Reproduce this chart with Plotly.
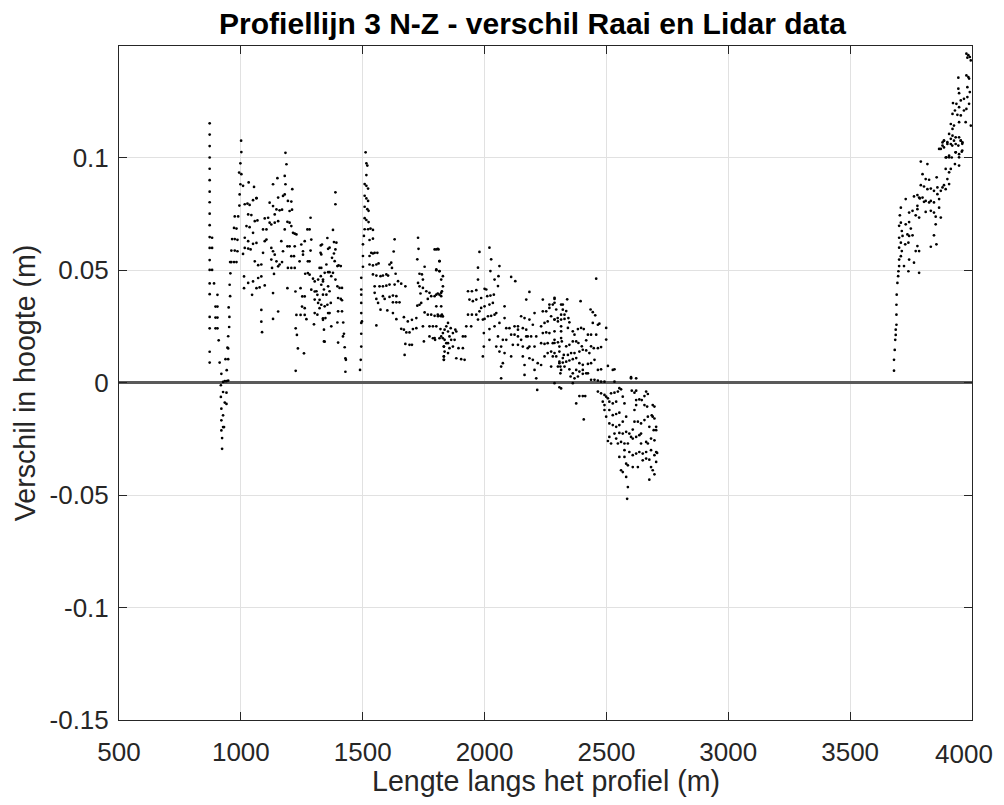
import plotly.graph_objects as go

# ---------------- data ----------------
# (distance along profile [m], height difference [m])
seg_900_1350 = [
    (872,0.1154),(872,0.1104),(872,0.1053),(872,0.1002),(872,0.0952),(872,0.0901),(872,0.0850),(872,0.0803),
    (872,0.0752),(872,0.0701),(872,0.0648),(872,0.0600),(872,0.0546),(872,0.0502),(872,0.0442),(872,0.0394),
    (872,0.0293),(872,0.0242),(872,0.0138),(872,0.0090),
    (882,0.0645),(882,0.0600),(882,0.0502),(890,0.0442),(904,0.0391),(904,0.0339),(904,0.0290),(904,0.0242),
    (896,0.0339),(896,0.0290),(896,0.0242),(909,0.0189),
    (913,0.0090),(920,0.0040),(918,-0.0011),(927,0.0004),(934,0.0007),(941,0.0007),(948,0.0010),(927,-0.0041),
    (941,-0.0044),(918,-0.0063),(934,-0.0088),(941,-0.0094),(920,-0.0115),(927,-0.0145),(920,-0.0167),
    (927,-0.0197),(931,-0.0197),(920,-0.0212),(923,-0.0246),(923,-0.0294),(942,0.0056),(948,0.0105),
    (945,0.0156),(948,0.0207),(952,0.0248),(953,0.0293),(950,0.0335),(956,0.0385),(954,0.0436),(957,0.0487),
    (956,0.0537),(937,0.0105),(948,0.0153),
    (961,0.0537),(972,0.0537),(982,0.0537),(961,0.0588),(975,0.0588),(986,0.0585),(964,0.0639),(975,0.0639),
    (986,0.0636),(972,0.0689),(982,0.0686),(975,0.0740),(989,0.0740),(994,0.0788),(995,0.0838),(998,0.0883),
    (1002,0.0928),(998,0.0976),(1002,0.1026),(1001,0.1077),(1009,0.0876),(993,0.0935),(1013,0.0473),
    (1013,0.0421),(1030,0.0444),
    (1016,0.0794),(1027,0.0797),(1036,0.0791),(1050,0.0812),(1064,0.0821),(1030,0.0749),(1043,0.0746),
    (1057,0.0719),(1068,0.0722),(1023,0.0697),(1036,0.0692),(1050,0.0667),(1016,0.0645),(1030,0.0630),
    (1050,0.0618),(1064,0.0622),(1016,0.0600),(1030,0.0597),(1040,0.0593),(1009,0.0573),(1057,0.0540),
    (1071,0.0523),(1084,0.0526),(1091,0.0578),(1098,0.0630),(1105,0.0637),(1091,0.0682),(1105,0.0682),
    (1098,0.0731),(1112,0.0734),(1118,0.0712),(1125,0.0704),(1139,0.0712),(1153,0.0719),(1050,0.0451),
    (1071,0.0466),(1084,0.0473),(1064,0.0421),(1077,0.0424),(1098,0.0433),(1046,0.0391),(1084,0.0324),
    (1084,0.0272),(1087,0.0225),(1032,0.0891),(1054,0.0871),(1064,0.0821),
    (1118,0.0801),(1132,0.0786),(1146,0.0771),(1159,0.0767),(1169,0.0770),(1180,0.0838),(1173,0.0831),
    (1183,0.0883),(1180,0.0920),(1187,0.0972),(1183,0.1023),(1132,0.0883),(1150,0.0910),(1153,0.0824),
    (1139,0.0749),(1125,0.0600),(1132,0.0585),(1139,0.0570),(1146,0.0540),(1153,0.0518),(1159,0.0526),
    (1169,0.0537),(1125,0.0548),(1128,0.0511),(1136,0.0484),(1132,0.0399),(1153,0.0317),(1132,0.0284),
    (1166,0.0630),(1173,0.0585),(1180,0.0682),(1191,0.0716),(1200,0.0712),(1207,0.0697),(1214,0.0667),
    (1221,0.0663),(1228,0.0660),(1193,0.0809),(1207,0.0806),(1200,0.0764),(1210,0.0770),(1211,0.0861),
    (1191,0.0607),(1200,0.0607),(1207,0.0563),(1193,0.0511),(1207,0.0511),(1191,0.0421),(1218,0.0563),
    (1221,0.0511),
    (1221,0.0607),(1224,0.0406),(1228,0.0302),(1225,0.0242),(1230,0.0213),(1234,0.0153),(1225,0.0053),
    (1248,0.0615),(1255,0.0570),(1241,0.0540),(1245,0.0421),(1252,0.0384),(1262,0.0384),(1251,0.0339),
    (1245,0.0302),(1262,0.0332),(1255,0.0585),(1262,0.0630),(1275,0.0540),(1282,0.0540),(1286,0.0588),
    (1289,0.0637),(1282,0.0682),(1286,0.0734),(1273,0.0682),(1264,0.0485),(1275,0.0488),(1282,0.0481),
    (1296,0.0463),(1303,0.0451),(1289,0.0414),(1303,0.0406),(1314,0.0391),(1323,0.0369),(1330,0.0436),
    (1337,0.0451),(1333,0.0615),(1327,0.0578),(1330,0.0511),(1323,0.0332),(1337,0.0287),(1344,0.0183),
    (1300,0.0260),(1262,0.0302),(1269,0.0283),(1259,0.0131),
]

seg_1300_1830 = [
    (1328,0.0611),(1330,0.0571),(1323,0.0511),(1328,0.0474),(1317,0.0459),(1310,0.0407),(1303,0.0370),
    (1317,0.0355),(1314,0.0303),(1303,0.0310),(1337,0.0459),(1344,0.0489),(1358,0.0492),(1351,0.0526),
    (1341,0.0415),(1358,0.0429),(1364,0.0407),(1351,0.0392),(1337,0.0392),(1330,0.0347),(1344,0.0340),
    (1355,0.0347),(1369,0.0355),(1337,0.0280),(1347,0.0288),(1358,0.0310),(1364,0.0310),(1341,0.0236),
    (1341,0.0184),(1371,0.0251),(1355,0.0644),(1358,0.0596),(1364,0.0601),(1378,0.0680),(1382,0.0626),
    (1392,0.0623),(1388,0.0593),(1382,0.0575),(1374,0.0556),(1385,0.0541),(1396,0.0519),(1401,0.0522),
    (1410,0.0519),(1378,0.0489),(1371,0.0474),(1388,0.0459),(1396,0.0429),(1405,0.0422),(1415,0.0422),
    (1399,0.0377),(1410,0.0373),(1415,0.0367),(1399,0.0318),(1415,0.0318),(1396,0.0268),(1420,0.0268),
    (1423,0.0218),(1419,0.0206),(1399,0.0179),(1426,0.0158),(1429,0.0109),(1431,0.0102),(1429,0.0049),
    (1388,0.0847),(1388,0.0794),(1364,0.0492),
    (1512,0.1025),(1515,0.0976),(1519,0.0966),(1515,0.0924),(1508,0.0884),(1515,0.0876),(1522,0.0864),
    (1508,0.0832),(1515,0.0820),(1522,0.0809),(1508,0.0783),(1519,0.0772),(1524,0.0765),(1508,0.0732),
    (1515,0.0724),(1524,0.0715),(1508,0.0683),(1522,0.0683),(1532,0.0686),(1542,0.0680),(1505,0.0653),
    (1528,0.0635),(1542,0.0641),(1501,0.0616),(1535,0.0578),(1542,0.0575),(1549,0.0578),(1560,0.0578),
    (1528,0.0564),(1501,0.0564),(1528,0.0526),(1542,0.0522),(1556,0.0526),(1565,0.0531),(1501,0.0516),
    (1542,0.0482),(1556,0.0477),(1573,0.0474),(1583,0.0477),(1597,0.0482),(1604,0.0477),(1549,0.0429),
    (1569,0.0429),(1583,0.0429),(1597,0.0432),(1610,0.0437),(1631,0.0437),(1631,0.0638),(1627,0.0584),
    (1617,0.0534),(1610,0.0526),(1620,0.0511),(1635,0.0485),(1645,0.0452),(1658,0.0441),(1675,0.0429),
    (1549,0.0400),(1556,0.0373),(1563,0.0355),(1583,0.0385),(1590,0.0373),(1610,0.0382),(1624,0.0388),
    (1638,0.0385),(1651,0.0358),(1624,0.0358),(1638,0.0358),(1573,0.0325),(1601,0.0322),(1624,0.0310),
    (1638,0.0283),(1556,0.0255),(1669,0.0292),(1685,0.0273),(1702,0.0280),(1720,0.0288),(1658,0.0240),
    (1669,0.0236),(1679,0.0224),(1692,0.0224),(1706,0.0239),(1720,0.0243),(1675,0.0173),(1692,0.0169),
    (1702,0.0169),(1672,0.0124),(1494,0.0467),(1494,0.0415),(1494,0.0392),(1494,0.0355),(1494,0.0310),
    (1494,0.0266),(1494,0.0218),(1494,0.0161),(1492,0.0102),(1489,0.0057),(1497,0.0273),
    (1727,0.0645),(1729,0.0596),(1724,0.0549),(1733,0.0485),(1743,0.0482),(1747,0.0459),(1754,0.0516),
    (1727,0.0444),(1733,0.0429),(1737,0.0397),(1747,0.0422),(1761,0.0407),(1774,0.0400),(1781,0.0385),
    (1795,0.0385),(1808,0.0397),(1822,0.0400),(1767,0.0373),(1724,0.0343),(1733,0.0347),(1740,0.0355),
    (1754,0.0313),(1767,0.0303),(1781,0.0303),(1795,0.0298),(1808,0.0303),(1819,0.0298),(1829,0.0295),
    (1747,0.0251),(1774,0.0251),(1788,0.0251),(1774,0.0206),(1788,0.0198),(1797,0.0191),(1815,0.0198),
    (1829,0.0198),(1751,0.0184),(1795,0.0593),(1808,0.0596),(1802,0.0504),(1815,0.0496),(1815,0.0541),
    (1829,0.0474),(1829,0.0429),(1822,0.0385),(1833,0.0161),(1833,0.0117),(1833,0.0102),(1819,0.0239),
]

seg_1800_2320 = [
    (1802,0.0593),(1811,0.0593),(1815,0.0541),(1802,0.0501),(1815,0.0497),(1822,0.0459),(1825,0.0407),
    (1802,0.0392),(1815,0.0392),(1822,0.0340),(1802,0.0340),(1822,0.0296),(1809,0.0296),(1802,0.0251),
    (1825,0.0303),(1850,0.0266),(1843,0.0251),(1836,0.0236),(1829,0.0221),(1822,0.0206),(1850,0.0228),
    (1861,0.0243),(1836,0.0191),(1843,0.0176),(1833,0.0161),(1836,0.0139),(1833,0.0117),(1833,0.0102),
    (1856,0.0206),(1870,0.0221),(1884,0.0228),(1911,0.0206),(1921,0.0206),(1850,0.0176),(1863,0.0191),
    (1877,0.0191),(1856,0.0154),(1870,0.0161),(1893,0.0154),(1911,0.0154),(1850,0.0132),(1884,0.0109),
    (1904,0.0105),(1918,0.0102),(1880,0.0236),(1795,0.0199),
    (1932,0.0407),(1948,0.0407),(1966,0.0412),(1979,0.0582),(1973,0.0512),(1973,0.0459),(1938,0.0370),
    (1952,0.0363),(1966,0.0370),(1986,0.0377),(2000,0.0418),(2007,0.0415),(2011,0.0385),(2024,0.0388),
    (2038,0.0392),(2020,0.0601),(2027,0.0549),(2024,0.0497),(2041,0.0459),(2055,0.0430),(2061,0.0519),
    (2057,0.0474),(1932,0.0303),(1948,0.0303),(1966,0.0303),(1979,0.0318),(1986,0.0333),(2000,0.0340),
    (2020,0.0348),(2034,0.0355),(1925,0.0251),(1945,0.0251),(1973,0.0281),(1993,0.0281),(2000,0.0284),
    (2014,0.0296),(2027,0.0298),(2041,0.0303),(2048,0.0310),(1997,0.0221),(2020,0.0239),(2041,0.0251),
    (2061,0.0266),(2082,0.0288),(2082,0.0340),(2055,0.0206),(2075,0.0191),(2089,0.0191),(2068,0.0161),
    (2048,0.0161),(2061,0.0139),(2082,0.0132),(2068,0.0072),(2075,0.0087),(2068,0.0020),(1997,0.0161),
    (1993,0.0117),(2020,0.0191),(2109,0.0471),(2126,0.0452),(2089,0.0243),(2102,0.0243),(2123,0.0251),
    (2137,0.0251),(2109,0.0214),(2123,0.0214),(2137,0.0236),(2150,0.0296),(2164,0.0288),(2184,0.0281),
    (2198,0.0258),(2157,0.0243),(2171,0.0236),(2137,0.0206),(2150,0.0191),(2171,0.0206),(2191,0.0206),
    (2116,0.0169),(2137,0.0169),(2157,0.0161),(2177,0.0154),(2109,0.0117),(2157,0.0117),(2184,0.0161),
    (2205,0.0161),(2164,0.0079),(2164,0.0035),(2184,0.0109),(2198,0.0102),(2205,0.0057),(2212,0.0020),
    (2218,0.0087),(2232,0.0079),(2246,0.0117),(2259,0.0132),(2273,0.0139),(2232,0.0176),(2246,0.0173),
    (2259,0.0176),(2280,0.0176),(2239,0.0221),(2253,0.0224),(2266,0.0221),(2232,0.0251),(2246,0.0266),
    (2259,0.0273),(2273,0.0296),(2239,0.0318),(2253,0.0318),(2266,0.0333),(2280,0.0348),(2287,0.0373),
    (2239,0.0370),(2266,0.0348),(2171,0.0370),(2184,0.0404),(2205,0.0310),(2212,0.0206),(2177,0.0206),
    (2280,0.0117),(2273,0.0072),(2294,0.0117),(2307,0.0161),(2307,0.0087),(2311,0.0072),(2311,0.0042),
    (2287,0.0281),(2300,0.0288),(2314,0.0303),(2321,0.0325),(2314,0.0199),(2321,0.0348),(2314,0.0251),
    (2216,-0.0032),(2314,-0.0025),(2287,0.0191),
]

seg_2290_2710 = [
    (2287,0.0378),(2287,0.0356),(2294,0.0326),(2314,0.0348),(2339,0.0371),(2394,0.0363),(2287,0.0281),
    (2301,0.0273),(2314,0.0281),(2328,0.0284),(2344,0.0288),(2335,0.0319),(2328,0.0303),(2348,0.0269),
    (2287,0.0229),(2314,0.0229),(2342,0.0244),(2362,0.0229),(2369,0.0214),(2383,0.0239),(2396,0.0244),
    (2407,0.0239),(2424,0.0214),(2437,0.0214),(2458,0.0214),(2435,0.0326),(2444,0.0314),(2454,0.0300),
    (2444,0.0266),(2465,0.0258),(2471,0.0263),(2499,0.0244),(2499,0.0192),(2287,0.0177),(2301,0.0180),
    (2317,0.0184),(2335,0.0162),(2348,0.0169),(2362,0.0184),(2376,0.0184),(2385,0.0177),(2399,0.0162),
    (2417,0.0189),(2437,0.0162),(2448,0.0154),(2465,0.0154),(2478,0.0159),(2287,0.0132),(2307,0.0139),
    (2325,0.0124),(2342,0.0124),(2355,0.0132),(2369,0.0132),(2389,0.0139),(2403,0.0147),(2417,0.0144),
    (2430,0.0132),(2451,0.0102),(2307,0.0094),(2321,0.0090),(2335,0.0094),(2348,0.0099),(2362,0.0105),
    (2376,0.0110),(2389,0.0087),(2403,0.0080),(2424,0.0084),(2437,0.0087),(2465,0.0057),(2478,0.0060),
    (2506,0.0075),(2526,0.0057),(2533,0.0060),(2301,0.0072),(2314,0.0057),(2328,0.0072),(2348,0.0060),
    (2362,0.0042),(2376,0.0057),(2389,0.0050),(2403,0.0040),(2417,0.0042),(2437,0.0013),(2451,0.0013),
    (2465,0.0010),(2478,0.0005),(2492,0.0005),(2533,0.0005),(2287,-0.0002),(2307,-0.0020),(2362,-0.0002),
    (2369,0.0020),(2383,0.0028),(2403,0.0057),(2424,0.0042),(2321,0.0110),(2353,0.0028),(2458,0.0463),
    (2601,0.0025),(2622,0.0020),
    (2389,-0.0059),(2403,-0.0059),(2413,-0.0059),(2376,-0.0092),(2465,-0.0039),(2478,-0.0047),
    (2492,-0.0054),(2499,-0.0062),(2485,-0.0084),(2492,-0.0099),(2506,-0.0069),(2519,-0.0047),
    (2533,-0.0044),(2547,-0.0039),(2553,-0.0024),(2512,-0.0084),(2526,-0.0092),(2540,-0.0084),
    (2492,-0.0121),(2512,-0.0121),(2526,-0.0144),(2540,-0.0139),(2553,-0.0133),(2499,-0.0151),
    (2407,-0.0163),(2574,-0.0092),(2567,-0.0062),(2560,-0.0029),
    (2512,-0.0181),(2526,-0.0188),(2540,-0.0196),(2553,-0.0188),(2567,-0.0173),(2581,-0.0151),
    (2533,-0.0226),(2553,-0.0223),(2567,-0.0226),(2581,-0.0218),(2594,-0.0226),(2608,-0.0208),
    (2512,-0.0241),(2540,-0.0248),(2560,-0.0263),(2574,-0.0270),(2588,-0.0270),(2608,-0.0248),
    (2622,-0.0241),(2506,-0.0259),(2519,-0.0270),(2547,-0.0270),(2574,-0.0300),(2594,-0.0308),
    (2608,-0.0322),(2622,-0.0315),(2635,-0.0308),(2649,-0.0315),(2663,-0.0308),(2683,-0.0300),
    (2704,-0.0308),(2615,-0.0173),(2629,-0.0173),(2642,-0.0181),(2656,-0.0166),(2670,-0.0151),
    (2686,-0.0145),(2615,-0.0121),(2622,-0.0099),(2645,-0.0077),(2656,-0.0059),(2670,-0.0050),
    (2622,-0.0077),(2635,-0.0074),(2615,-0.0044),(2604,-0.0035),(2622,-0.0035),(2601,0.0020),
    (2663,-0.0039),(2656,-0.0099),(2667,-0.0106),(2690,-0.0099),(2697,-0.0106),(2690,-0.0151),
    (2697,-0.0159),(2704,-0.0196),(2694,-0.0211),(2704,-0.0211),(2676,-0.0196),(2642,-0.0226),
    (2635,-0.0233),(2663,-0.0263),(2642,-0.0270),(2670,-0.0270),(2683,-0.0248),(2697,-0.0256),
    (2663,-0.0337),(2649,-0.0345),(2676,-0.0342),(2697,-0.0322),(2704,-0.0352),(2683,-0.0375),
    (2690,-0.0389),(2697,-0.0407),(2676,-0.0431),(2574,-0.0330),(2581,-0.0360),(2588,-0.0367),
    (2608,-0.0375),(2629,-0.0375),(2560,-0.0389),(2601,-0.0241),(2567,-0.0397),(2581,-0.0419),
    (2588,-0.0464),(2585,-0.0516),(2553,-0.0330),(2708,-0.0312),
]

seg_3680_4000 = [
    (3680,0.0054),(3680,0.0102),(3683,0.0146),(3685,0.0191),(3687,0.0213),(3687,0.0236),(3690,0.0258),
    (3690,0.0303),(3690,0.0347),(3691,0.0392),(3694,0.0444),(3697,0.0474),(3698,0.0496),(3701,0.0519),
    (3701,0.0548),(3708,0.0563),(3712,0.0586),(3701,0.0601),(3708,0.0623),(3701,0.0645),(3715,0.0653),
    (3712,0.0675),(3701,0.0698),(3708,0.0712),(3704,0.0745),(3708,0.0779),(3728,0.0817),(3742,0.0548),
    (3739,0.0496),(3721,0.0519),(3726,0.0616),(3739,0.0623),(3735,0.0660),(3742,0.0653),(3756,0.0656),
    (3749,0.0686),(3728,0.0705),(3742,0.0715),(3742,0.0757),(3756,0.0765),(3769,0.0745),(3776,0.0772),
    (3783,0.0824),(3762,0.0829),(3776,0.0835),(3786,0.0820),(3797,0.0824),(3803,0.0805),(3810,0.0809),
    (3824,0.0802),(3831,0.0809),(3844,0.0802),(3790,0.0879),(3803,0.0873),(3817,0.0861),(3831,0.0864),
    (3844,0.0854),(3797,0.0928),(3810,0.0906),(3824,0.0903),(3790,0.0984),(3817,0.0973),(3776,0.0787),
    (3783,0.0735),(3776,0.0608),(3769,0.0586),(3783,0.0586),(3762,0.0534),(3783,0.0489),(3810,0.0760),
    (3831,0.0765),(3844,0.0757),(3851,0.0739),(3851,0.0705),(3844,0.0656),(3854,0.0616),(3831,0.0605),
    (3872,0.0735),(3865,0.0779),(3865,0.0817),(3858,0.0839),(3872,0.0854),(3858,0.0869),(3879,0.0869),
    (3892,0.0861),(3885,0.0879),(3906,0.0884),(3855,0.0914),(3899,0.0906),(3906,0.0936),(3913,0.0951),
    (3892,0.0951),(3930,0.0973),(3947,0.0966),(3895,0.1003),(3906,0.1003),(3879,0.1055),(3865,0.1040),
    (3885,0.1077),(3899,0.1070),(3919,0.1055),(3944,0.1055),(3933,0.1025),(3954,0.1077),(3960,0.1063),
    (3947,0.1003),(3960,0.1033),(3926,0.1077),(3913,0.1085),
    (3977,0.1464),(3985,0.1457),(3991,0.1449),(3981,0.1446),(3995,0.1434),(3944,0.1357),(3977,0.1367),
    (3985,0.1360),(3988,0.1353),(3981,0.1315),(3991,0.1293),(3944,0.1308),(3947,0.1288),(3981,0.1271),
    (3967,0.1263),(3954,0.1256),(3922,0.1244),(3936,0.1241),(3947,0.1226),(3988,0.1241),(3930,0.1211),
    (3920,0.1196),(3940,0.1192),(3954,0.1189),(3967,0.1211),(3977,0.1218),(3913,0.1151),(3926,0.1144),
    (3920,0.1129),(3947,0.1159),(3974,0.1159),(3995,0.1144),(3906,0.1107),(3920,0.1099),(3933,0.1092),
    (3947,0.1092),(3954,0.1077),(3885,0.1077),(3879,0.1069),(3899,0.1062),(3913,0.1062),(3933,0.1062),
    (3961,0.1069),(3872,0.1040),(3885,0.1047),(3906,0.1010),(3917,0.1002),(3933,0.1025),(3947,0.1017),
    (3958,0.1028),(3892,0.1002),
]

x_ticks = [500, 1000, 1500, 2000, 2500, 3000, 3500, 4000]
x_tick_text = ["500", "1000", "1500", "2000", "2500", "3000", "3500", "4000"]
y_ticks = [-0.15, -0.1, -0.05, 0, 0.05, 0.1]
y_tick_text = ["-0.15", "-0.1", "-0.05", "0", "0.05", "0.1"]
x_range = [500, 4000]
y_range = [-0.15, 0.1498]

title_text = "Profiellijn 3 N-Z - verschil Raai en Lidar data"
x_label = "Lengte langs het profiel (m)"
y_label = "Verschil in hoogte (m)"

# ---------------- figure ----------------
points = seg_900_1350 + seg_1300_1830 + seg_1800_2320 + seg_2290_2710 + seg_3680_4000
xs = [p[0] for p in points]
ys = [p[1] for p in points]

FONT = "Liberation Sans, Arial, Helvetica, sans-serif"
AX = "#262626"
GRID = "#e1e1e1"

fig = go.Figure()
fig.add_trace(go.Scatter(
    x=xs, y=ys, mode="markers",
    marker=dict(color="black", size=2.7, line=dict(width=0)),
    showlegend=False, cliponaxis=True,
))

axis_common = dict(
    showline=True, linecolor=AX, linewidth=1, mirror="ticks",
    ticks="inside", ticklen=8, tickwidth=1, tickcolor=AX,
    showgrid=True, gridcolor=GRID, gridwidth=1,
    tickfont=dict(family=FONT, size=26, color=AX),
)

# the last x tick label would run past the page edge, so it is written as an
# annotation pulled just inside the figure (its tick mark stays on the axis)
axis_tick_text = x_tick_text[:-1] + [""]

fig.update_xaxes(range=x_range, tickvals=x_ticks, ticktext=axis_tick_text,
                 zeroline=False, ticklabelstandoff=9, **axis_common)
fig.update_yaxes(range=y_range, tickvals=y_ticks, ticktext=y_tick_text,
                 zeroline=True, zerolinecolor="#5a5a5a", zerolinewidth=2.5,
                 ticklabelstandoff=4, **axis_common)

# the page body keeps its 8 px margin; the figure fits the 1004x805 window exactly
fig.update_layout(
    width=988, height=789,
    margin=dict(l=111, r=24, t=38, b=77),
    paper_bgcolor="white", plot_bgcolor="white",
    title=dict(text="<b>" + title_text + "</b>", x=0.4848, xref="paper", xanchor="center",
               y=1 - 15 / 789, yref="container", yanchor="middle",
               font=dict(family=FONT, size=30, color="black")),
    annotations=[
        dict(text=x_tick_text[-1], xref="paper", yref="paper", x=1.0268, y=-0.0505,
             xanchor="right", yanchor="middle", showarrow=False,
             font=dict(family=FONT, size=26, color=AX)),
        dict(text=x_label, xref="paper", yref="paper", x=0.5, y=-0.0905,
             xanchor="center", yanchor="middle", showarrow=False,
             font=dict(family=FONT, size=28.6, color=AX)),
        dict(text=y_label, xref="paper", yref="paper", x=-0.110, y=0.5,
             xanchor="center", yanchor="middle", showarrow=False, textangle=-90,
             font=dict(family=FONT, size=28.6, color=AX)),
    ],
)

fig.write_html("out.html")
